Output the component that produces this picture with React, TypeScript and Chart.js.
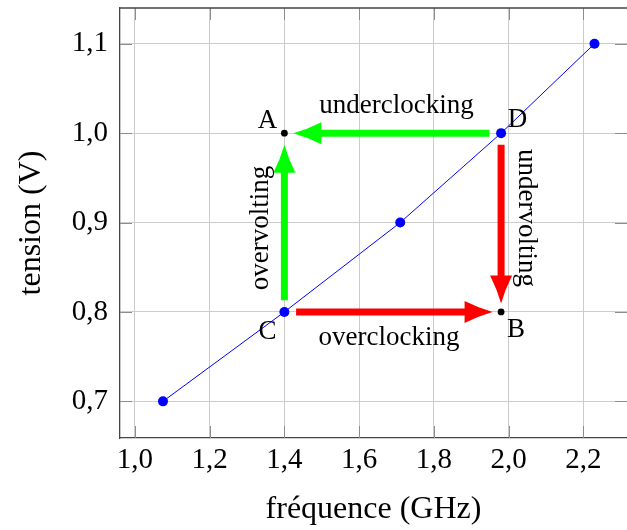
import { useEffect, useRef } from 'react';
import { Chart, registerables } from 'chart.js';

Chart.register(...registerables);

// ---- data ----
const freqGHz = [1.075, 1.4, 1.71, 1.98, 2.23];
const voltV = [0.7, 0.8, 0.9, 1.0, 1.1];

// black reference dots (A, B)
const dotFreq = [1.4, 1.98];
const dotVolt = [1.0, 0.8];

// point names
const pointNames = ['A', 'B', 'C', 'D'];
const pointFreq = [1.4, 1.98, 1.4, 1.98];
const pointVolt = [1.0, 0.8, 0.8, 1.0];

// arrows
const arrowFromFreq = [1.98, 1.4, 1.98, 1.4];
const arrowFromVolt = [1.0, 0.8, 1.0, 0.8];
const arrowToFreq = [1.4, 1.4, 1.98, 1.98];
const arrowToVolt = [1.0, 1.0, 0.8, 0.8];
const arrowLabels = ['underclocking', 'overvolting', 'undervolting', 'overclocking'];

const xTickValues = [1.0, 1.2, 1.4, 1.6, 1.8, 2.0, 2.2];
const xTickLabels = ['1,0', '1,2', '1,4', '1,6', '1,8', '2,0', '2,2'];
const yTickValues = [0.7, 0.8, 0.9, 1.0, 1.1];
const yTickLabels = ['0,7', '0,8', '0,9', '1,0', '1,1'];

const xTitle = 'fréquence (GHz)';
const yTitle = 'tension (V)';

// ---- styles ----
const FONT = '"Liberation Serif", "DejaVu Serif", serif';
const arrowColors = ['#00ff00', '#00ff00', '#ff0000', '#ff0000'];
const arrowEndGap = [9, 11.7, 8.5, 8.5];
const arrowStartGap = 11.7;
const labelOffsets: [number, number][] = [
  [3.7, -20],
  [-16, 5.5],
  [18.3, -4.5],
  [-3.8, 33.2],
];
const labelRotations = [0, -Math.PI / 2, Math.PI / 2, 0];
const pointLabelOffsets: [number, number][] = [
  [-16.8, -5],
  [15, 24.7],
  [-16.8, 26.7],
  [16.3, -6.6],
];

function drawArrow(
  ctx: CanvasRenderingContext2D,
  x1: number,
  y1: number,
  x2: number,
  y2: number,
  color: string,
  endGap: number
) {
  const dx = x2 - x1;
  const dy = y2 - y1;
  const len = Math.hypot(dx, dy);
  const ux = dx / len;
  const uy = dy / len;
  const nx = -uy;
  const ny = ux;
  const headLen = 28;
  const headHalf = 11;
  const sx = x1 + ux * arrowStartGap;
  const sy = y1 + uy * arrowStartGap;
  const tx = x2 - ux * endGap;
  const ty = y2 - uy * endGap;
  const bx = tx - ux * headLen;
  const by = ty - uy * headLen;
  ctx.save();
  ctx.strokeStyle = color;
  ctx.fillStyle = color;
  ctx.lineWidth = 7;
  ctx.lineCap = 'butt';
  ctx.beginPath();
  ctx.moveTo(sx, sy);
  ctx.lineTo(bx + ux * 3, by + uy * 3);
  ctx.stroke();
  const c1x = bx + nx * headHalf;
  const c1y = by + ny * headHalf;
  const c2x = bx - nx * headHalf;
  const c2y = by - ny * headHalf;
  const m1x = (tx + c1x) / 2 - nx * 1.5;
  const m1y = (ty + c1y) / 2 - ny * 1.5;
  const m2x = (tx + c2x) / 2 + nx * 1.5;
  const m2y = (ty + c2y) / 2 + ny * 1.5;
  ctx.beginPath();
  ctx.moveTo(tx, ty);
  ctx.quadraticCurveTo(m1x, m1y, c1x, c1y);
  ctx.lineTo(c2x, c2y);
  ctx.quadraticCurveTo(m2x, m2y, tx, ty);
  ctx.closePath();
  ctx.fill();
  ctx.restore();
}

const framePlugin = {
  id: 'frameTicks',
  beforeDatasetsDraw(chart: any) {
    const { ctx, chartArea, scales } = chart;
    const { left, right, top, bottom } = chartArea;
    const tl = 12;
    ctx.save();
    ctx.strokeStyle = '#8c8c8c';
    ctx.lineWidth = 1;
    ctx.beginPath();
    xTickValues.forEach((v) => {
      const px = Math.round(scales.x.getPixelForValue(v)) + 0.5;
      ctx.moveTo(px, bottom);
      ctx.lineTo(px, bottom - tl);
      ctx.moveTo(px, top);
      ctx.lineTo(px, top + tl);
    });
    yTickValues.forEach((v) => {
      const py = Math.round(scales.y.getPixelForValue(v)) + 0.5;
      ctx.moveTo(left, py);
      ctx.lineTo(left + tl, py);
      ctx.moveTo(right, py);
      ctx.lineTo(right - tl, py);
    });
    ctx.stroke();
    ctx.strokeStyle = '#444444';
    ctx.lineWidth = 1.3;
    ctx.beginPath();
    ctx.moveTo(left, top);
    ctx.lineTo(right, top);
    ctx.stroke();
    ctx.restore();
  },
  afterDatasetsDraw(chart: any) {
    const { ctx, scales } = chart;
    const X = (v: number) => scales.x.getPixelForValue(v);
    const Y = (v: number) => scales.y.getPixelForValue(v);
    arrowFromFreq.forEach((f, i) => {
      drawArrow(
        ctx,
        X(f),
        Y(arrowFromVolt[i]),
        X(arrowToFreq[i]),
        Y(arrowToVolt[i]),
        arrowColors[i],
        arrowEndGap[i]
      );
    });
    // black dots over arrows
    ctx.save();
    ctx.fillStyle = '#000000';
    dotFreq.forEach((f, i) => {
      ctx.beginPath();
      ctx.arc(X(f), Y(dotVolt[i]), 3.4, 0, Math.PI * 2);
      ctx.fill();
    });
    ctx.restore();
    // texts
    ctx.save();
    ctx.fillStyle = '#000000';
    ctx.font = `27px ${FONT}`;
    ctx.textAlign = 'center';
    ctx.textBaseline = 'alphabetic';
    pointNames.forEach((n, i) => {
      const [ox, oy] = pointLabelOffsets[i];
      ctx.fillText(n, X(pointFreq[i]) + ox, Y(pointVolt[i]) + oy);
    });
    arrowLabels.forEach((t, i) => {
      const mx = (X(arrowFromFreq[i]) + X(arrowToFreq[i])) / 2;
      const my = (Y(arrowFromVolt[i]) + Y(arrowToVolt[i])) / 2;
      const [ox, oy] = labelOffsets[i];
      ctx.save();
      ctx.translate(mx + ox, my + oy);
      ctx.rotate(labelRotations[i]);
      ctx.fillText(t, 0, 0);
      ctx.restore();
    });
    ctx.restore();
  },
};

export default function App() {
  const ref = useRef<HTMLCanvasElement | null>(null);

  useEffect(() => {
    const canvas = ref.current;
    if (!canvas) return;
    const chart = new Chart(canvas, {
      type: 'line',
      data: {
        datasets: [
          {
            data: freqGHz.map((x, i) => ({ x, y: voltV[i] })),
            borderColor: '#0000ff',
            backgroundColor: '#0000ff',
            borderWidth: 1,
            pointRadius: 5,
            pointHoverRadius: 5,
            pointBackgroundColor: '#0000ff',
            pointBorderWidth: 0,
            tension: 0,
            fill: false,
            clip: false as any,
          },
        ],
      },
      options: {
        responsive: false,
        animation: false,
        events: [],
        layout: { autoPadding: false, padding: { top: 8, left: 0, right: 0, bottom: 0 } },
        plugins: {
          legend: { display: false },
          tooltip: { enabled: false },
        },
        scales: {
          x: {
            type: 'linear',
            min: 0.96,
            max: 2.317,
            afterBuildTicks: (s: any) => {
              s.ticks = xTickValues.map((v) => ({ value: v }));
            },
            afterFit: (s: any) => {
              s.height = 92;
              s.paddingLeft = 0;
              s.paddingRight = 0;
              s.paddingTop = 0;
              s.paddingBottom = 0;
            },
            ticks: {
              callback: (_v: any, i: number) => xTickLabels[i],
              autoSkip: false,
              maxRotation: 0,
              minRotation: 0,
              padding: 5,
              color: '#000000',
              font: { family: FONT, size: 29 },
            },
            grid: { color: '#cccccc', lineWidth: 1, drawTicks: false },
            border: { display: true, color: '#444444', width: 1.3 },
            title: {
              display: true,
              text: xTitle,
              color: '#000000',
              font: { family: FONT, size: 32 },
              padding: { top: 0, bottom: 1.5 },
            },
          },
          y: {
            type: 'linear',
            min: 0.659,
            max: 1.14,
            afterBuildTicks: (s: any) => {
              s.ticks = yTickValues.map((v) => ({ value: v }));
            },
            afterFit: (s: any) => {
              s.width = 120;
              s.paddingTop = 0;
              s.paddingBottom = 0;
              s.paddingLeft = 0;
              s.paddingRight = 0;
            },
            ticks: {
              callback: (_v: any, i: number) => yTickLabels[i],
              autoSkip: false,
              padding: 12,
              color: '#000000',
              font: { family: FONT, size: 29 },
            },
            grid: { color: '#cccccc', lineWidth: 1, drawTicks: false },
            border: { display: true, color: '#444444', width: 1.3 },
            title: {
              display: true,
              text: yTitle,
              color: '#000000',
              font: { family: FONT, size: 32 },
              padding: { top: 12.2, bottom: 0 },
            },
          },
        },
      } as any,
      plugins: [framePlugin],
    });
    return () => chart.destroy();
  }, []);

  return (
    <div style={{ position: 'absolute', left: 0, top: 0, width: 627, height: 530, background: '#ffffff' }}>
      <canvas ref={ref} width={627} height={530} style={{ display: 'block', width: 627, height: 530 }} />
    </div>
  );
}
